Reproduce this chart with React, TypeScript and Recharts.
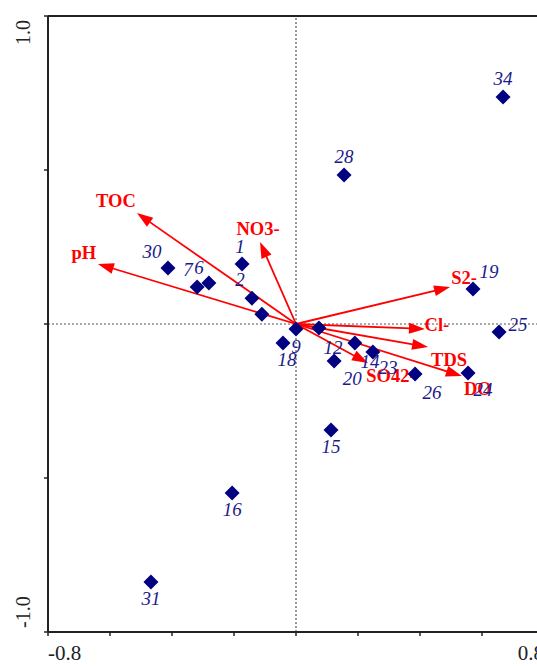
import React from 'react';
import {
  ScatterChart,
  Scatter,
  XAxis,
  YAxis,
  ReferenceLine,
} from 'recharts';

// sample scores (axis 1, axis 2)
const siteIds = ['', '30', '7', '6', '1', '2', '9', '18', '12', '14', '20', '23', '26', '24', '25', '19', '28', '34', '15', '16', '31'];
const siteAxis1 = [-0.110, -0.413, -0.319, -0.281, -0.174, -0.142, 0.000, -0.042, 0.074, 0.190, 0.123, 0.248, 0.384, 0.555, 0.655, 0.571, 0.155, 0.668, 0.113, -0.206, -0.468];
const siteAxis2 = [0.032, 0.182, 0.120, 0.133, 0.195, 0.084, -0.016, -0.062, -0.013, -0.062, -0.120, -0.091, -0.162, -0.159, -0.026, 0.114, 0.484, 0.737, -0.344, -0.549, -0.838];

// environmental variables (arrow tips)
const envNames = ['TOC', 'pH', 'NO3-', 'S2-', 'Cl-', 'TDS', 'SO42-', 'DO'];
const envAxis1 = [-0.513, -0.639, -0.116, 0.497, 0.416, 0.426, 0.232, 0.535];
const envAxis2 = [0.360, 0.195, 0.266, 0.120, -0.016, -0.075, -0.127, -0.169];

const xTicks = [-0.8, -0.6, -0.4, -0.2, 0, 0.2, 0.4, 0.6, 0.8];
const yTicks = [-1, -0.5, 0, 0.5, 1];

const sites = siteIds.map((id, i) => ({ id, x: siteAxis1[i], y: siteAxis2[i] }));

// label placement relative to the marker / arrow tip (px)
const siteLabelOffset: Record<string, [number, number]> = {
  '30': [-16, -16], '7': [-9, -17], '6': [-10, -15], '1': [-2, -17], '2': [-12, -18],
  '34': [0, -18], '28': [0, -18], '19': [16, -17], '25': [19, -7],
  '9': [0, 18], '18': [4, 17], '15': [0, 17], '16': [0, 17], '31': [0, 17],
  '12': [14, 20], '14': [15, 19], '23': [15, 16], '20': [18, 18], '26': [17, 19], '24': [15, 17],
};
const envLabelOffset: Record<string, [number, number]> = {
  'TOC': [-21, -12], 'pH': [-14, -11], 'NO3-': [-2, -13], 'S2-': [14, -9],
  'Cl-': [12, -4], 'TDS': [21, 13], 'SO42-': [23, 13], 'DO': [16, 13],
};

const SERIF = '"Liberation Serif", "Times New Roman", serif';
const NAVY = '#000080';
const RED = '#ff0000';
const AXIS = '#222';

const SiteMarker = (p: any) => {
  const { cx, cy, payload } = p;
  const r = 7.5;
  const off = siteLabelOffset[payload.id] || [0, 0];
  return (
    <g>
      <path d={`M${cx},${cy - r}L${cx + r},${cy}L${cx},${cy + r}L${cx - r},${cy}Z`} fill={NAVY} />
      {payload.id && (
        <text
          x={cx + off[0]}
          y={cy + off[1] + 6}
          textAnchor="middle"
          fontFamily={SERIF}
          fontStyle="italic"
          fontSize={19}
          fill="#1a1a8c"
        >
          {payload.id}
        </text>
      )}
    </g>
  );
};

const arrowShape = (name: string) => (p: any) => {
  const { x1, y1, x2, y2 } = p;
  const dx = x2 - x1;
  const dy = y2 - y1;
  const len = Math.sqrt(dx * dx + dy * dy);
  const ux = dx / len;
  const uy = dy / len;
  const head = 16;
  const hw = 5.5;
  const bx = x2 - ux * head;
  const by = y2 - uy * head;
  const off = envLabelOffset[name] || [0, 0];
  return (
    <g>
      <line x1={x1} y1={y1} x2={bx + ux * 2} y2={by + uy * 2} stroke={RED} strokeWidth={1.8} />
      <polygon
        points={`${x2},${y2} ${bx - uy * hw},${by + ux * hw} ${bx + uy * hw},${by - ux * hw}`}
        fill={RED}
      />
      <text
        x={x2 + off[0]}
        y={y2 + off[1] + 6}
        textAnchor="middle"
        fontFamily={SERIF}
        fontWeight="bold"
        fontSize={18.5}
        fill={RED}
      >
        {name}
      </text>
    </g>
  );
};

const XTick = (p: any) => {
  const { x, y, payload } = p;
  const v = payload.value;
  if (Math.abs(Math.abs(v) - 0.8) > 1e-6) return <g />;
  return (
    <text x={x} y={y + 22} textAnchor={v < 0 ? 'start' : 'end'} fontFamily={SERIF} fontSize={21} fill="#222">
      {v.toFixed(1)}
    </text>
  );
};

const YTick = (p: any) => {
  const { x, y, payload } = p;
  const v = payload.value;
  if (Math.abs(Math.abs(v) - 1) > 1e-6) return <g />;
  const tx = x - 12;
  const ty = v > 0 ? y + 4 : y - 4;
  return (
    <text
      x={tx}
      y={ty}
      transform={`rotate(-90 ${tx} ${ty})`}
      textAnchor={v > 0 ? 'end' : 'start'}
      fontFamily={SERIF}
      fontSize={20}
      fill="#222"
    >
      {v.toFixed(1)}
    </text>
  );
};

export default function App() {
  return (
    <div style={{ position: 'absolute', left: 0, top: 0, width: 537, height: 666, overflow: 'hidden', background: '#fff' }}>
      <ScatterChart width={560} height={666} margin={{ top: 16, right: 16, bottom: 0, left: 0 }}>
        <XAxis
          type="number"
          dataKey="x"
          domain={[-0.8, 0.8]}
          ticks={xTicks}
          interval={0}
          allowDataOverflow
          height={34}
          tickSize={4}
          axisLine={{ stroke: AXIS, strokeWidth: 2 }}
          tickLine={{ stroke: AXIS, strokeWidth: 1.5 }}
          tick={XTick}
        />
        <YAxis
          type="number"
          dataKey="y"
          domain={[-1, 1]}
          ticks={yTicks}
          interval={0}
          allowDataOverflow
          width={48}
          tickSize={4}
          axisLine={{ stroke: AXIS, strokeWidth: 2 }}
          tickLine={{ stroke: AXIS, strokeWidth: 1.5 }}
          tick={YTick}
        />
        <ReferenceLine y={1} stroke={AXIS} strokeWidth={2} />
        <ReferenceLine x={0.8} stroke={AXIS} strokeWidth={2} />
        <ReferenceLine x={0} stroke="#555" strokeDasharray="2 2" strokeWidth={1.2} />
        <ReferenceLine y={0} stroke="#555" strokeDasharray="2 2" strokeWidth={1.2} />
        <Scatter data={sites} shape={SiteMarker} isAnimationActive={false} />
        {envNames.map((name, i) => (
          <ReferenceLine
            key={name}
            segment={[{ x: 0, y: 0 }, { x: envAxis1[i], y: envAxis2[i] }]}
            shape={arrowShape(name)}
            ifOverflow="visible"
          />
        ))}
      </ScatterChart>
    </div>
  );
}
